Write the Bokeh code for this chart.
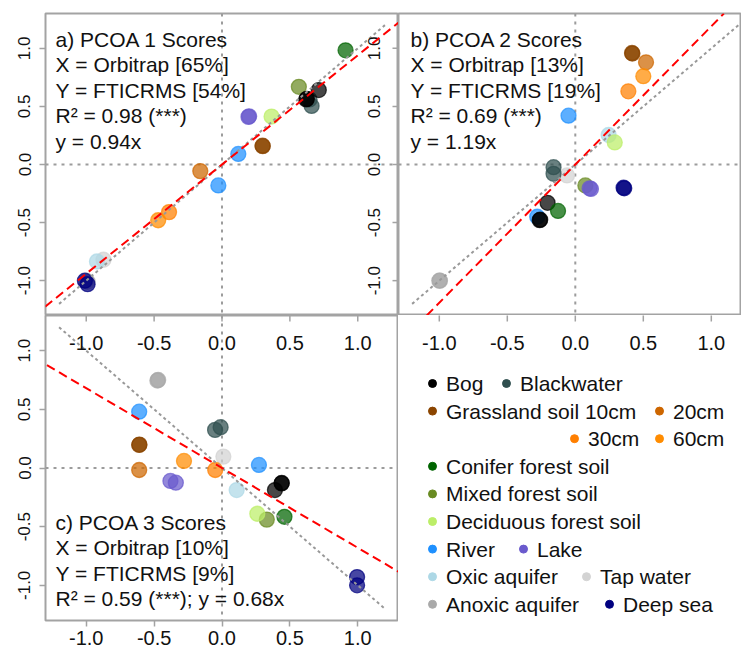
import math
from bokeh.plotting import figure
from bokeh.layouts import row, column
from bokeh.models import Range1d, Span, Slope, Label, ColumnDataSource, FixedTicker
from bokeh.core.properties import value
from bokeh.embed import file_html
from bokeh.resources import INLINE

# ---------------- data ----------------
sample_type = ["Anoxic aquifer", "Anoxic aquifer", "Tap water", "Oxic aquifer",
               "Deep sea", "Deep sea", "Blackwater", "Blackwater", "River", "River",
               "Mixed forest soil", "Lake", "Lake", "Bog", "Bog", "Bog",
               "Grassland soil 10cm", "Grassland soil 10cm", "20cm", "30cm", "60cm",
               "Conifer forest soil", "Deciduous forest soil"]

pc1_orbitrap = [-1.00, -0.99, -0.873, -0.921, -1.01, -0.99, 0.66, 0.645, -0.027, 0.12,
                0.566, 0.195, 0.20, 0.62, 0.625, 0.713, 0.299, 0.30, -0.16, -0.39, -0.47,
                0.91, 0.365]
pc1_fticrms = [-1.00, -1.01, -0.82, -0.835, -1.00, -1.03, 0.504, 0.56, -0.18, 0.091,
               0.669, 0.41, 0.415, 0.56, 0.565, 0.641, 0.162, 0.158, -0.057, -0.41, -0.48,
               0.983, 0.413]

pc2_orbitrap = [-1.00, -0.995, -0.061, 0.245, 0.355, 0.36, -0.16, -0.16, -0.05, -0.28,
                0.074, 0.105, 0.115, -0.262, -0.258, -0.204, 0.417, 0.42, 0.52, 0.39, 0.50,
                -0.127, 0.29]
pc2_fticrms = [-1.00, -1.00, -0.094, 0.254, -0.20, -0.205, -0.023, -0.08, 0.42, -0.45,
               -0.18, -0.205, -0.21, -0.479, -0.475, -0.33, 0.96, 0.955, 0.88, 0.63, 0.76,
               -0.40, 0.19]

pc3_orbitrap = [-0.476, -0.47, 0.01, 0.108, 0.995, 0.995, -0.051, -0.01, -0.61, 0.272,
                0.33, -0.38, -0.34, 0.439, 0.44, 0.39, -0.61, -0.608, -0.61, -0.05, -0.28,
                0.46, 0.26]
pc3_fticrms = [0.746, 0.75, 0.097, -0.188, -0.93, -1.00, 0.325, 0.348, 0.48, 0.026,
               -0.44, -0.11, -0.125, -0.131, -0.128, -0.188, 0.197, 0.20, -0.017, -0.017, 0.06,
               -0.416, -0.39]

type_names = ["Bog", "Blackwater", "Grassland soil 10cm", "20cm", "30cm", "60cm",
              "Conifer forest soil", "Mixed forest soil", "Deciduous forest soil",
              "River", "Lake", "Oxic aquifer", "Tap water", "Anoxic aquifer", "Deep sea"]
type_colors = ["#000000", "#2F4F4F", "#8B4500", "#CD6600", "#FF7F00", "#FF8C00",
               "#006400", "#698B22", "#BCEE68", "#1E90FF", "#6A5ACD", "#ADD8E6",
               "#D3D3D3", "#A9A9A9", "#000080"]

fit_slopes = [0.94, 1.19, -0.68]
one_to_one_sign = [1, 1, -1]

panel_a_text = ["a) PCOA 1 Scores", "X = Orbitrap [65%]", "Y = FTICRMS [54%]",
                "R\u00b2 = 0.98 (***)", "y = 0.94x"]
panel_b_text = ["b) PCOA 2 Scores", "X = Orbitrap [13%]", "Y = FTICRMS [19%]",
                "R\u00b2 = 0.69 (***)", "y = 1.19x"]
panel_c_text = ["c) PCOA 3 Scores", "X = Orbitrap [10%]", "Y = FTICRMS [9%]",
                "R\u00b2 = 0.59 (***); y = 0.68x"]

tick_values = [-1.0, -0.5, 0.0, 0.5, 1.0]
tick_labels = ["-1.0", "-0.5", "0.0", "0.5", "1.0"]

# ---------------- layout / style constants ----------------
AX = (-1.3, 1.3)
BX = (-1.3, 1.222)
REF_EXTENT = [-1.2, 1.2]

legend_row = [0, 0, 1, 1, 2, 2, 3, 4, 5, 6, 6, 7, 7, 8, 8]
legend_dot_x = [34, 108, 34, 261, 176, 261, 34, 34, 34, 34, 125, 34, 188, 34, 211]
LEG_Y0, LEG_DY, LEG_GAP = 68, 27.6, 13.5

FONT = "Liberation Sans"
FRAME = "#a3a3a3"
ZERO = "#9c9c9c"
TXT = "#111111"
HSIZE = "20px"   # horizontal tick labels
VSIZE = "17px"   # rotated tick labels
color_of = dict(zip(type_names, type_colors))
overrides = {v: s for v, s in zip(tick_values, tick_labels)}


def base_fig(w, h, xr, yr, left, top, bottom, xloc, yloc):
    p = figure(width=w, height=h, x_range=Range1d(*xr), y_range=Range1d(*yr),
               output_backend="svg", toolbar_location=None,
               x_axis_location=xloc, y_axis_location=yloc,
               min_border_left=left, min_border_right=0,
               min_border_top=top, min_border_bottom=bottom)
    p.grid.visible = False
    p.outline_line_color = FRAME
    p.outline_line_width = 2
    p.background_fill_color = "white"
    p.border_fill_color = "white"
    return p


def style_axis(ax, size, orient):
    ax.ticker = FixedTicker(ticks=tick_values)
    ax.major_label_overrides = overrides
    ax.axis_line_color = None
    ax.major_tick_line_color = FRAME
    ax.major_tick_line_width = 1.5
    ax.major_tick_out = 6
    ax.major_tick_in = 0
    ax.minor_tick_line_color = None
    ax.major_label_text_font = FONT
    ax.major_label_text_font_size = size
    ax.major_label_text_color = TXT
    ax.major_label_orientation = orient


def draw_panel(p, xs, ys, k, lines, xoff, from_top):
    for dim in ("width", "height"):
        p.add_layout(Span(location=0, dimension=dim, line_color=ZERO, line_dash="3 5",
                          line_width=2, level="underlay"))
    src = ColumnDataSource(dict(x=xs, y=ys, c=[color_of[t] for t in sample_type]))
    p.scatter("x", "y", source=src, size=15, fill_color="c", line_color="c",
              fill_alpha=0.72, line_alpha=0.72, line_width=1.3)
    s = one_to_one_sign[k]
    p.line(REF_EXTENT, [s * v for v in REF_EXTENT], line_color="#999999",
           line_dash="3 3", line_width=2)
    p.add_layout(Slope(gradient=fit_slopes[k], y_intercept=0, line_color="red",
                       line_dash="9 5", line_width=2))
    n = len(lines)
    for i, t in enumerate(lines):
        if from_top:
            yv, yo = p.y_range.end, -(26 + 25.4 * i)
        else:
            yv, yo = p.y_range.start, 22 + 25.4 * (n - 1 - i)
        p.add_layout(Label(x=p.x_range.start, y=yv, x_offset=xoff, y_offset=yo, text=t,
                           text_font=FONT, text_font_size="21px", text_color=TXT,
                           text_baseline="middle", text_align="left"))


# panel a
pa = base_fig(398, 315, AX, AX, 45, 13, 0, None, "left")
style_axis(pa.yaxis[0], VSIZE, "vertical")
pa.yaxis[0].major_label_standoff = 9
draw_panel(pa, pc1_orbitrap, pc1_fticrms, 0, panel_a_text, 10, True)
# left-axis ticks and labels of panel b (drawn inside panel a, as in the reference)
pa.scatter(x=[AX[1]] * len(tick_values), y=tick_values, marker="dash", size=12,
           line_color=FRAME, line_width=1.5)
pa.text(x=[AX[1]] * len(tick_values), y=tick_values, text=tick_labels, angle=math.pi / 2,
        x_offset=-25, text_align="center", text_baseline="middle",
        text_font=value(FONT), text_font_size=VSIZE, text_color=TXT)

# panel b
pb = base_fig(343, 315, BX, AX, 0, 13, 0, None, None)
draw_panel(pb, pc2_orbitrap, pc2_fticrms, 1, panel_b_text, 12, True)

# panel c
pc = base_fig(398, 337, AX, AX, 45, 0, 32, "below", "left")
style_axis(pc.yaxis[0], VSIZE, "vertical")
pc.yaxis[0].major_label_standoff = 9
style_axis(pc.xaxis[0], HSIZE, "horizontal")
pc.xaxis[0].major_label_standoff = 4
draw_panel(pc, pc3_orbitrap, pc3_fticrms, 2, panel_c_text, 10, False)
# bottom-axis ticks and labels of panel a (drawn inside panel c)
pc.scatter(x=tick_values, y=[AX[1]] * len(tick_values), marker="dash", angle=math.pi / 2,
           size=12, line_color=FRAME, line_width=1.5)
pc.text(x=tick_values, y=[AX[1]] * len(tick_values), text=tick_labels, y_offset=27,
        text_align="center", text_baseline="middle",
        text_font=value(FONT), text_font_size=HSIZE, text_color=TXT)

# legend area (also carries panel b's bottom axis)
pd_ = figure(width=343, height=337, x_range=Range1d(*BX), y_range=Range1d(337, 0),
             output_backend="svg", toolbar_location=None, x_axis_location=None,
             y_axis_location=None, min_border_left=0, min_border_right=0,
             min_border_top=0, min_border_bottom=0)
pd_.extra_x_ranges = {"px": Range1d(0, 343)}
pd_.grid.visible = False
pd_.outline_line_color = None
pd_.border_fill_color = "white"
pd_.scatter(x=tick_values, y=[0] * len(tick_values), marker="dash", angle=math.pi / 2,
            size=12, line_color=FRAME, line_width=1.5)
pd_.text(x=tick_values, y=[27] * len(tick_values), text=tick_labels,
         text_align="center", text_baseline="middle",
         text_font=value(FONT), text_font_size=HSIZE, text_color=TXT)
leg_y = [LEG_Y0 + LEG_DY * r for r in legend_row]
pd_.scatter(x=legend_dot_x, y=leg_y, x_range_name="px", size=8, fill_color=type_colors,
            line_color=type_colors)
pd_.text(x=[d + LEG_GAP for d in legend_dot_x], y=leg_y, x_range_name="px", text=type_names,
         text_align="left", text_baseline="middle", text_font=value(FONT),
         text_font_size="21px", text_color=TXT)

layout = row(column(pa, pc), column(pb, pd_))
open("out.html", "w").write(file_html(layout, INLINE))
